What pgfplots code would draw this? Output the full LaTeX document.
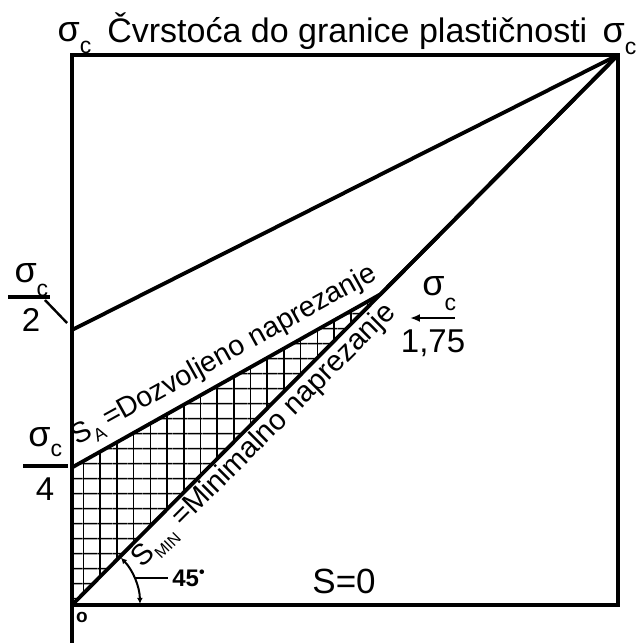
\documentclass[border=0pt]{standalone}
\usepackage{fontspec}
\setmainfont{Liberation Sans}
\usepackage{pgfplots}
\pgfplotsset{compat=1.18}
\usetikzlibrary{patterns.meta,arrows.meta}
\newcommand{\sgc}[1]{{\fontsize{18}{18}\selectfont σ}\raisebox{-#1}{\fontsize{11.5}{11.5}\selectfont c}}
\begin{document}
\begin{tikzpicture}
\path[use as bounding box] (-36pt,-19pt) rectangle (285.5pt,302.5pt);
\begin{axis}[at={(0,0)},anchor=south west,
  scale only axis, width=273pt, height=275pt,
  xmin=0, xmax=1, ymin=0, ymax=1,
  ticks=none, clip=false,
  axis line style={line width=1.8pt}]
% hatched region (cross hatch)
\addplot[draw=none, pattern={Lines[angle=90,distance=8.35pt,line width=0.8pt]}, pattern color=black]
  coordinates {(0,0) (0,0.25) (0.565,0.565) (0,0)};
\addplot[draw=none, pattern={Lines[angle=0,distance=7.65pt,line width=0.8pt]}, pattern color=black]
  coordinates {(0,0) (0,0.25) (0.565,0.565) (0,0)};
% lines
\addplot[line width=1.9pt] coordinates {(0,0.5) (1,1)};
\addplot[line width=1.9pt] coordinates {(0,0.25) (0.565,0.565) (1,1)};
\addplot[line width=1.9pt] coordinates {(0,0) (1,1)};
% left axis extension
\draw[line width=1.8pt] (axis cs:0,0) -- (axis cs:0,-0.075);
% title
\node[anchor=base west, font=\fontsize{17}{19}\selectfont, inner sep=0pt] at (axis cs:0.064,1.0236) {Čvrstoća do granice plastičnosti};
\node[anchor=base west, inner sep=0pt] at (axis cs:-0.027,1.025) {\sgc{6pt}};
\node[anchor=base west, inner sep=0pt] at (axis cs:0.971,1.022) {\sgc{6pt}};
% sigma_c / 2
\node[anchor=base west, inner sep=0pt] at (axis cs:-0.106,0.587) {\sgc{7pt}};
\draw[line width=1.6pt] (axis cs:-0.117,0.56) -- (axis cs:-0.0403,0.56);
\node[anchor=base, font=\fontsize{16.5}{18}\selectfont, inner sep=0pt] at (axis cs:-0.0751,0.4964) {2};
\draw[line width=1.2pt] (axis cs:-0.0495,0.5545) -- (axis cs:-0.009,0.5127);
% sigma_c / 4
\node[anchor=base west, inner sep=0pt] at (axis cs:-0.0806,0.2873) {\sgc{5pt}};
\draw[line width=1.6pt] (axis cs:-0.0897,0.2527) -- (axis cs:-0.0073,0.2527);
\node[anchor=base, font=\fontsize{16.5}{18}\selectfont, inner sep=0pt] at (axis cs:-0.0495,0.1909) {4};
% sigma_c / 1,75
\node[anchor=base west, inner sep=0pt] at (axis cs:0.641,0.5636) {\sgc{7.5pt}};
\draw[line width=1.3pt, {Latex[length=5pt,width=4pt]}-] (axis cs:0.619,0.5218) -- (axis cs:0.7015,0.5218);
\node[anchor=base, font=\fontsize{16.5}{18}\selectfont, inner sep=0pt] at (axis cs:0.6612,0.4582) {1,75};
% rotated labels
\node[anchor=base west, rotate=29, font=\fontsize{14.3}{16}\selectfont, inner sep=0pt] at (axis cs:0.0092,0.2898)
  {S\raisebox{-0.25em}{\fontsize{9}{9}\selectfont A}\hspace{0.18em}=Dozvoljeno naprezanje};
\node[anchor=base west, rotate=45, font=\fontsize{14.6}{16}\selectfont, inner sep=0pt] at (axis cs:0.1282,0.0664)
  {S\raisebox{-0.25em}{\fontsize{8}{8}\selectfont MIN} =Minimalno naprezanje};
% 45 degree
\draw[line width=1pt, {Latex[length=3pt,width=3pt]}-{Latex[length=3pt,width=3pt]}] (axis cs:0,0) ++(1:34pt) arc[start angle=1,end angle=44,radius=34pt];
\draw[line width=0.9pt] (axis cs:0.115,0.049) -- (axis cs:0.176,0.049);
\node[anchor=west, font=\bfseries\fontsize{12}{13}\selectfont, inner sep=0pt] at (axis cs:0.183,0.049) {45\raisebox{0.35em}{\fontsize{8}{8}\selectfont •}};
% S=0
\node[anchor=base west, font=\fontsize{17.5}{19}\selectfont, inner sep=0pt] at (axis cs:0.4396,0.0218) {S=0};
% origin
\node[font=\bfseries\fontsize{9.5}{10}\selectfont, inner sep=0pt] at (axis cs:0.0183,-0.0218) {o};
\end{axis}
\end{tikzpicture}
\end{document}
